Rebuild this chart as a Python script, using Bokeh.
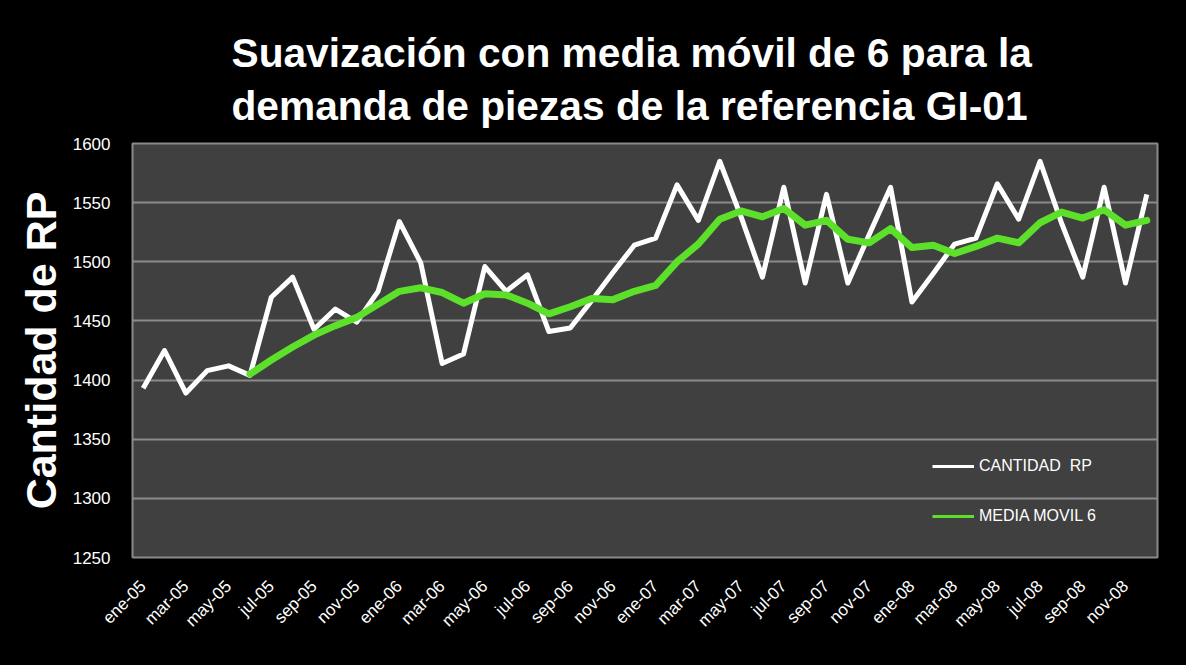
import math
from bokeh.plotting import figure
from bokeh.models import Title, FixedTicker, Legend, LegendItem, ColumnDataSource
from bokeh.embed import file_html
from bokeh.resources import INLINE

meses = ["ene", "feb", "mar", "abr", "may", "jun", "jul", "ago", "sep", "oct", "nov", "dic"]
anios = ["05", "06", "07", "08"]
periodos = [f"{m}-{a}" for a in anios for m in meses]

cantidad_rp = [1393, 1425, 1389, 1408, 1412, 1404, 1470, 1487, 1443, 1460, 1449, 1475,
               1534, 1499, 1414, 1422, 1496, 1475, 1489, 1441, 1444, 1467, 1491, 1514,
               1520, 1565, 1535, 1585, 1538, 1487, 1563, 1482, 1557, 1482, 1523, 1563,
               1466, 1490, 1515, 1520, 1566, 1536, 1585, 1533, 1487, 1563, 1482, 1557]

nan = float("nan")
media_movil_6 = [nan, nan, nan, nan, nan, 1405, 1417, 1428, 1438, 1446, 1453, 1464,
                 1475, 1478, 1474, 1465, 1473, 1472, 1465, 1456, 1462, 1469, 1468, 1475,
                 1480, 1500, 1515, 1536, 1543, 1538, 1545, 1531, 1535, 1519, 1516, 1528,
                 1512, 1514, 1507, 1513, 1520, 1516, 1533, 1542, 1537, 1544, 1531, 1535]

titulo_1 = "Suavización con media móvil de 6 para la"
titulo_2 = "demanda de piezas de la referencia GI-01"
eje_y = "Cantidad de RP"
serie_1 = "CANTIDAD  RP"
serie_2 = "MEDIA MOVIL 6"

idx = list(range(len(periodos)))
src = ColumnDataSource(dict(x=idx, rp=cantidad_rp, mm=media_movil_6))

FONT = "Liberation Sans"
GREEN = "#5ce02a"

p = figure(width=1186, height=665, output_backend="svg", toolbar_location=None,
           x_range=(-0.5, len(periodos) - 0.5), y_range=(1250, 1600),
           min_border_left=132, min_border_right=29, min_border_top=143, min_border_bottom=108)
p.title = None
p.background_fill_color = "#404040"
p.border_fill_color = "#000000"
p.outline_line_color = "#8a8a8a"
p.outline_line_width = 2

t = Title(text=titulo_1 + "\n" + titulo_2, align="left", text_font=FONT, text_font_size="40.7px",
          text_font_style="bold", text_color="white", offset=99, standoff=29,
          text_line_height=1.15)
p.add_layout(t, "above")

r1 = p.line("x", "rp", source=src, line_color="white", line_width=5, line_join="round")
r2 = p.line("x", "mm", source=src, line_color=GREEN, line_width=7, line_join="round", line_cap="round")

# legend proxies (draw nothing in the plot) with the thinner sample lines of the reference
l1 = p.line(x=[nan], y=[nan], line_color="white", line_width=3)
l2 = p.line(x=[nan], y=[nan], line_color=GREEN, line_width=3)
legend = Legend(items=[LegendItem(label=serie_1, renderers=[l1]),
                       LegendItem(label=serie_2, renderers=[l2])],
                location=(800, 31), background_fill_alpha=0, border_line_color=None,
                label_text_color="white", label_text_font=FONT, label_text_font_size="16px",
                glyph_width=42, glyph_height=20, label_height=20, spacing=30,
                padding=0, margin=0, label_standoff=5)
p.add_layout(legend, "center")

# grid
p.xgrid.grid_line_color = None
p.ygrid.grid_line_color = "#8a8a8a"
p.ygrid.grid_line_width = 2
p.yaxis.ticker = FixedTicker(ticks=list(range(1250, 1601, 50)))
p.xaxis.ticker = FixedTicker(ticks=idx[::2])
p.xaxis.major_label_overrides = {i: periodos[i] for i in idx[::2]}
p.xaxis.major_label_orientation = math.pi / 4

for ax in (p.xaxis[0], p.yaxis[0]):
    ax.axis_line_color = None
    ax.major_tick_line_color = None
    ax.minor_tick_line_color = None
    ax.major_tick_out = 0
    ax.major_tick_in = 0
    ax.major_label_text_color = "white"
    ax.major_label_text_font = FONT
    ax.major_label_text_font_size = "17px"

p.yaxis.major_label_standoff = 22
p.xaxis.major_label_standoff = 26
p.yaxis.axis_label = eje_y
p.yaxis.axis_label_text_font = FONT
p.yaxis.axis_label_text_font_size = "43px"
p.yaxis.axis_label_text_font_style = "bold"
p.yaxis.axis_label_text_color = "white"
p.yaxis.axis_label_standoff = 5

html = file_html(p, INLINE).replace("<body>", '<body style="background-color:#000000;">')
open("out.html", "w").write(html)
